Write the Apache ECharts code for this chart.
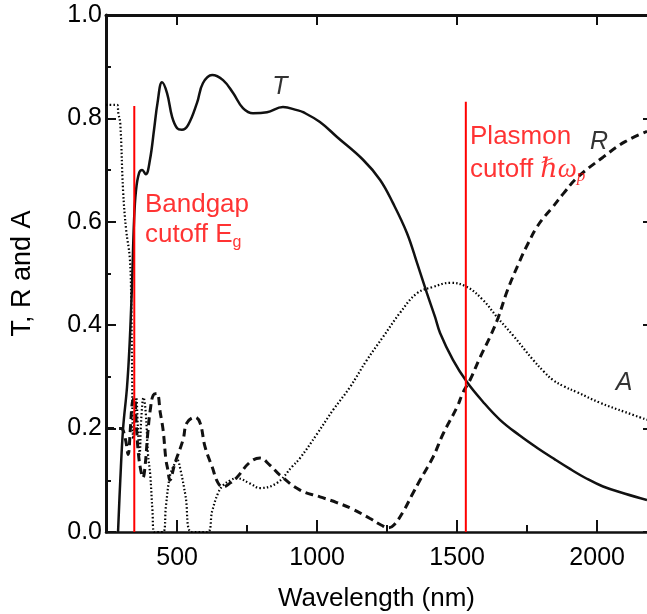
<!DOCTYPE html>
<html>
<head>
<meta charset="utf-8">
<script src="https://cdn.jsdelivr.net/npm/echarts@6/dist/echarts.min.js"></script>
<style>
  html, body { margin: 0; padding: 0; background: #fff; }
  #chart { width: 647px; height: 614px; }
</style>
</head>
<body>
<div id="chart"></div>
<script>
// Transmittance (solid)
const tWave = [289, 297, 307, 321, 330, 339, 346, 353, 364, 375, 388, 403, 418, 430, 446, 464, 482, 500, 517, 539, 571, 592, 625, 664, 700, 735, 771, 821, 878, 928, 950, 1010, 1071, 1164, 1225, 1271, 1321, 1357, 1392, 1421, 1439, 1485, 1535, 1592, 1653, 1720, 1785, 1850, 1903, 1960, 2021, 2100, 2178];
const tVal  = [0, 0.10, 0.20, 0.28, 0.36, 0.48, 0.60, 0.66, 0.694, 0.70, 0.692, 0.72, 0.78, 0.83, 0.87, 0.849, 0.803, 0.781, 0.778, 0.787, 0.83, 0.868, 0.884, 0.874, 0.849, 0.82, 0.81, 0.812, 0.822, 0.816, 0.812, 0.793, 0.764, 0.72, 0.681, 0.636, 0.578, 0.52, 0.462, 0.416, 0.385, 0.333, 0.29, 0.252, 0.217, 0.188, 0.163, 0.14, 0.122, 0.104, 0.088, 0.074, 0.062];

// Reflectance (dashed)
const rWave = [246, 280, 300, 315, 325, 333, 340, 347, 355, 362, 370, 378, 386, 395, 405, 415, 428, 440, 450, 460, 467, 474, 492, 521, 535, 564, 582, 600, 625, 646, 665, 690, 714, 760, 796, 830, 867, 939, 1010, 1070, 1128, 1189, 1230, 1255, 1275, 1307, 1342, 1367, 1414, 1450, 1500, 1521, 1546, 1582, 1617, 1646, 1680, 1725, 1755, 1785, 1815, 1842, 1880, 1928, 2021, 2100, 2178];
const rVal  = [0.20, 0.20, 0.20, 0.18, 0.15, 0.20, 0.25, 0.26, 0.20, 0.15, 0.12, 0.105, 0.13, 0.19, 0.24, 0.265, 0.268, 0.23, 0.197, 0.14, 0.12, 0.10, 0.133, 0.178, 0.211, 0.222, 0.211, 0.164, 0.126, 0.095, 0.087, 0.095, 0.106, 0.135, 0.143, 0.13, 0.11, 0.081, 0.068, 0.057, 0.044, 0.026, 0.013, 0.008, 0.014, 0.039, 0.075, 0.10, 0.145, 0.19, 0.242, 0.27, 0.294, 0.338, 0.377, 0.414, 0.468, 0.526, 0.56, 0.59, 0.612, 0.629, 0.655, 0.685, 0.725, 0.755, 0.775];

// Absorptance (dotted)
const aWave = [246, 286, 290, 297, 307, 318, 331, 336, 339, 343, 348, 354, 360, 366, 372, 380, 388, 396, 404, 412, 418, 450, 460, 475, 492, 500, 512, 530, 552, 608, 625, 646, 664, 690, 714, 760, 796, 857, 910, 939, 1000, 1057, 1117, 1178, 1235, 1296, 1357, 1414, 1475, 1535, 1592, 1642, 1700, 1771, 1810, 1842, 1880, 1930, 2010, 2100, 2178];
const aVal  = [0.826, 0.826, 0.81, 0.79, 0.66, 0.584, 0.53, 0.45, 0.32, 0.18, 0.22, 0.26, 0.20, 0.15, 0.22, 0.26, 0.23, 0.15, 0.11, 0.04, 0, 0, 0.05, 0.11, 0.133, 0.14, 0.12, 0.07, 0, 0, 0.04, 0.075, 0.09, 0.10, 0.104, 0.094, 0.085, 0.095, 0.126, 0.143, 0.19, 0.236, 0.28, 0.333, 0.377, 0.424, 0.462, 0.474, 0.482, 0.474, 0.449, 0.416, 0.38, 0.333, 0.31, 0.294, 0.282, 0.27, 0.25, 0.232, 0.217];

// Cutoff markers (wavelength, top of the line)
const cutoffWave = [347, 1531];
const cutoffTop = [0.824, 0.832];

// Axis ticks
const xTicksMajor = [500, 1000, 1500, 2000];
const xTicksMinor = [750, 1250, 1750];
const xMin = 246, xMax = 2178;

const pairs = (xs, ys) => xs.map((x, i) => [x, ys[i]]);

const RED = '#ff0000';
const INK = '#111';
const SANS = '"Liberation Sans", Arial, sans-serif';
const SERIF = '"Liberation Serif", "DejaVu Serif", serif';

function textPoint(x, y, formatter, rich, align) {
  return {
    type: 'scatter', symbolSize: 0, silent: true, z: 10,
    data: [[x, y]],
    label: {
      show: true, position: [0, 0], align: align || 'left', verticalAlign: 'middle',
      formatter: formatter, rich: rich
    }
  };
}

const redRich = {
  n: { fontFamily: SANS, fontSize: 26, color: RED, lineHeight: 30 },
  s: { fontFamily: SANS, fontSize: 16, color: RED, lineHeight: 16, padding: [14, 0, 0, 0], verticalAlign: 'bottom' },
  h: { fontFamily: SERIF, fontStyle: 'italic', fontSize: 27, color: RED, lineHeight: 30 },
  hs: { fontFamily: SERIF, fontStyle: 'italic', fontSize: 17, color: RED, lineHeight: 16, padding: [14, 0, 0, 0], verticalAlign: 'bottom' }
};
const italicRich = {
  i: { fontFamily: SANS, fontStyle: 'italic', fontSize: 25, color: '#000' }
};

const chart = echarts.init(document.getElementById('chart'), null, { renderer: 'canvas' });

const option = {
  backgroundColor: '#fff',
  animation: false,
  grid: { left: 106, top: 15, right: 0, bottom: 82, containLabel: false, outerBoundsMode: 'none' },
  xAxis: [
    {
      type: 'value', min: xMin, max: xMax, position: 'bottom',
      axisLine: { onZero: false, lineStyle: { color: INK, width: 2.5 } },
      axisTick: { inside: true, length: 12, customValues: xTicksMajor, lineStyle: { color: INK, width: 2 } },
      axisLabel: { customValues: xTicksMajor, formatter: v => String(v), fontFamily: SANS, fontSize: 25, color: '#000', margin: 14 },
      splitLine: { show: false },
      name: 'Wavelength (nm)', nameLocation: 'middle', nameGap: 54,
      nameTextStyle: { fontFamily: SANS, fontSize: 26, color: '#000' }
    },
    {
      type: 'value', min: xMin, max: xMax, position: 'bottom',
      axisLine: { show: false, onZero: false },
      axisTick: { inside: true, length: 7, customValues: xTicksMinor, lineStyle: { color: INK, width: 2 } },
      axisLabel: { show: false },
      splitLine: { show: false }
    },
    {
      type: 'value', min: xMin, max: xMax, position: 'top',
      axisLine: { onZero: false, lineStyle: { color: INK, width: 3 } },
      axisTick: { inside: true, length: 10, customValues: xTicksMajor, lineStyle: { color: INK, width: 2 } },
      axisLabel: { show: false },
      splitLine: { show: false }
    }
  ],
  yAxis: [
    {
      type: 'value', min: 0, max: 1, interval: 0.2, position: 'left',
      axisLine: { show: true, onZero: false, lineStyle: { color: INK, width: 3 } },
      axisTick: { show: true, inside: true, length: 10, lineStyle: { color: INK, width: 2 } },
      minorTick: { show: true, splitNumber: 2, length: 5, lineStyle: { color: INK, width: 2 } },
      axisLabel: { formatter: v => v.toFixed(1), fontFamily: SANS, fontSize: 25, color: '#000', margin: 4 },
      splitLine: { show: false },
      name: 'T, R and A', nameLocation: 'middle', nameGap: 70, nameRotate: 90,
      nameTextStyle: { fontFamily: SANS, fontSize: 27, color: '#000' }
    },
    {
      type: 'value', min: 0, max: 1, interval: 0.2, position: 'right',
      axisLine: { show: false, onZero: false },
      axisTick: { show: true, inside: true, length: 4, lineStyle: { color: INK, width: 2 } },
      axisLabel: { show: false },
      splitLine: { show: false }
    }
  ],
  series: [
    {
      name: 'T', type: 'line', data: pairs(tWave, tVal), showSymbol: false, symbol: 'none',
      smooth: 0.4,
      lineStyle: { color: INK, width: 2.5 }, z: 4
    },
    {
      name: 'R', type: 'line', data: pairs(rWave, rVal), showSymbol: false, symbol: 'none',
      smooth: 0.4,
      lineStyle: { color: INK, width: 3, type: [8, 5] }, z: 3
    },
    {
      name: 'A', type: 'line', data: pairs(aWave, aVal), showSymbol: false, symbol: 'none',
      smooth: 0.4,
      lineStyle: { color: '#000', width: 2.2, type: [1.5, 2.2] }, z: 2
    },
    {
      type: 'line', data: [[cutoffWave[0], 0], [cutoffWave[0], cutoffTop[0]]],
      symbol: 'none', silent: true, lineStyle: { color: RED, width: 2 }, z: 5
    },
    {
      type: 'line', data: [[cutoffWave[1], 0], [cutoffWave[1], cutoffTop[1]]],
      symbol: 'none', silent: true, lineStyle: { color: RED, width: 2 }, z: 5
    },
    textPoint(385, 0.632, '{n|Bandgap}', redRich),
    textPoint(385, 0.574, '{n|cutoff E}{s|g}', redRich),
    textPoint(1546, 0.765, '{n|Plasmon}', redRich),
    textPoint(1546, 0.700, '{n|cutoff }{h|ℏω}{hs|p}', redRich),
    textPoint(867, 0.860, '{i|T}', italicRich, 'center'),
    textPoint(2007, 0.754, '{i|R}', italicRich, 'center'),
    textPoint(2096, 0.288, '{i|A}', italicRich, 'center')
  ]
};

chart.setOption(option);
</script>
</body>
</html>
